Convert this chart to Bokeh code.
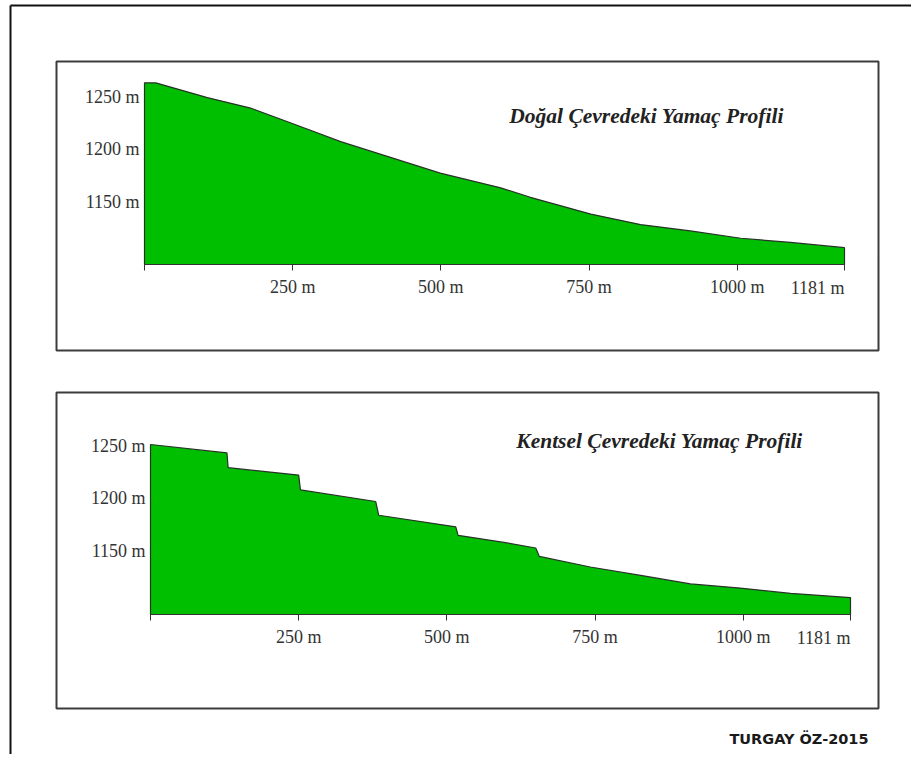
from bokeh.plotting import figure
from bokeh.models import Range1d, FixedTicker, Label, LinearAxis
from bokeh.embed import file_html
from bokeh.resources import INLINE

# ---------------- data ----------------
dist_natural = [0, 19, 50, 106, 179, 246, 331, 415, 499, 601, 651, 753, 837, 921, 1006, 1090, 1181]
elev_natural = [1263, 1263, 1258, 1249, 1239, 1225, 1207, 1192, 1177, 1163, 1154, 1138, 1128, 1122, 1115, 1111, 1106]

dist_urban = [0, 129, 131, 250, 253, 380, 385, 515, 519, 599, 650, 656, 742, 827, 911, 995, 1080, 1181]
elev_urban = [1251, 1243, 1229, 1222, 1208, 1197, 1184, 1173, 1165, 1158, 1153, 1145, 1135, 1127, 1119, 1115, 1110, 1106]

x_ticks = [0, 250, 500, 750, 1000, 1181]
x_tick_labels = ["", "250 m", "500 m", "750 m", "1000 m", "1181 m"]
y_ticks = [1150, 1200, 1250]
y_tick_labels = ["1150 m", "1200 m", "1250 m"]
titles = ["Doğal Çevredeki Yamaç Profili", "Kentsel Çevredeki Yamaç Profili"]
credit = "TURGAY ÖZ-2015"
base_elev = 1090

# ---------------- layout (page pixels) ----------------
OX, OY = 0, 0          # page position of the canvas
W, H = 911, 754
box_left = [56, 56]
box_right = [878, 878]
box_top = [61, 392]
box_bottom = [350, 708]
plot_left = [144, 150]
plot_right = [844, 850]
baseline_y = [264, 614]
px_per_m_y = [1.05, 1.056]
title_xy = [(646, 115), (659, 440)]
credit_xy = (868, 738)

GREEN = "#00bf00"
EDGE = "#263326"
BOX = "#3c3c3c"
TXT = "#333333"
SERIF = "Liberation Serif"

p = figure(width=W, height=H, output_backend="svg", toolbar_location=None,
           x_range=Range1d(OX, OX + W), y_range=Range1d(OY + H, OY),
           x_axis_type=None, y_axis_type=None, min_border=0)
p.outline_line_color = None
p.grid.visible = False
p.background_fill_color = "white"
p.border_fill_color = "white"

# outer page border (left and top)
p.line(x=[10, 10], y=[OY + H, 5], line_color="#111111", line_width=2)
p.line(x=[10, OX + W], y=[5, 5], line_color="#111111", line_width=2)
# panel boxes
p.quad(left=box_left, right=box_right, top=box_top, bottom=box_bottom,
       fill_color=None, line_color=BOX, line_width=2)

panels = [(dist_natural, elev_natural), (dist_urban, elev_urban)]
for i, (dist, elev) in enumerate(panels):
    kx = (plot_right[i] - plot_left[i]) / dist[-1]
    ky = px_per_m_y[i]
    xs0 = -(plot_left[i] - OX) / kx
    ys0 = base_elev - (OY + H - baseline_y[i]) / ky
    xn, yn = f"x{i}", f"y{i}"
    p.extra_x_ranges[xn] = Range1d(xs0, xs0 + W / kx)
    p.extra_y_ranges[yn] = Range1d(ys0, ys0 + H / ky)

    xs = [dist[0]] + list(dist) + [dist[-1]]
    ys = [base_elev] + list(elev) + [base_elev]
    p.patch(xs, ys, fill_color=GREEN, line_color=EDGE, line_width=1.2,
            x_range_name=xn, y_range_name=yn)

    xa = LinearAxis(x_range_name=xn, y_range_name=yn, fixed_location=base_elev,
                    bounds=(dist[0], dist[-1]))
    xa.ticker = FixedTicker(ticks=x_ticks)
    ov = {t: l for t, l in zip(x_ticks, x_tick_labels)}
    ov[x_ticks[-1]] = ""
    xa.major_label_overrides = ov
    xa.axis_line_color = "#333333"
    xa.major_tick_line_color = "#333333"
    xa.major_tick_out = 6
    xa.major_tick_in = 0
    xa.minor_tick_line_color = None
    xa.major_label_standoff = 6
    xa.major_label_text_font = SERIF
    xa.major_label_text_font_size = "18px"
    xa.major_label_text_color = TXT
    p.add_layout(xa, "below")

    ya = LinearAxis(x_range_name=xn, y_range_name=yn, fixed_location=0)
    ya.ticker = FixedTicker(ticks=y_ticks)
    ya.major_label_overrides = {t: l for t, l in zip(y_ticks, y_tick_labels)}
    ya.axis_line_color = None
    ya.major_tick_line_color = None
    ya.major_tick_out = 0
    ya.major_tick_in = 0
    ya.minor_tick_line_color = None
    ya.major_label_standoff = 5
    ya.major_label_text_font = SERIF
    ya.major_label_text_font_size = "18px"
    ya.major_label_text_color = TXT
    p.add_layout(ya, "left")

    p.add_layout(Label(x=x_ticks[-1], y=base_elev, x_range_name=xn, y_range_name=yn,
                       y_offset=-23, text=x_tick_labels[-1], text_align="right",
                       text_baseline="middle", text_font=SERIF, text_font_size="18px",
                       text_color=TXT))
    p.add_layout(Label(x=title_xy[i][0], y=title_xy[i][1], text=titles[i],
                       text_align="center", text_baseline="middle", text_font=SERIF,
                       text_font_size="21.5px", text_font_style="bold italic",
                       text_color="#222222"))

p.add_layout(Label(x=credit_xy[0], y=credit_xy[1], text=credit, text_align="right",
                   text_baseline="middle", text_font="DejaVu Sans", text_font_size="14.5px",
                   text_font_style="bold", text_color="#1a1a1a"))

open("out.html", "w").write(file_html(p, INLINE))
